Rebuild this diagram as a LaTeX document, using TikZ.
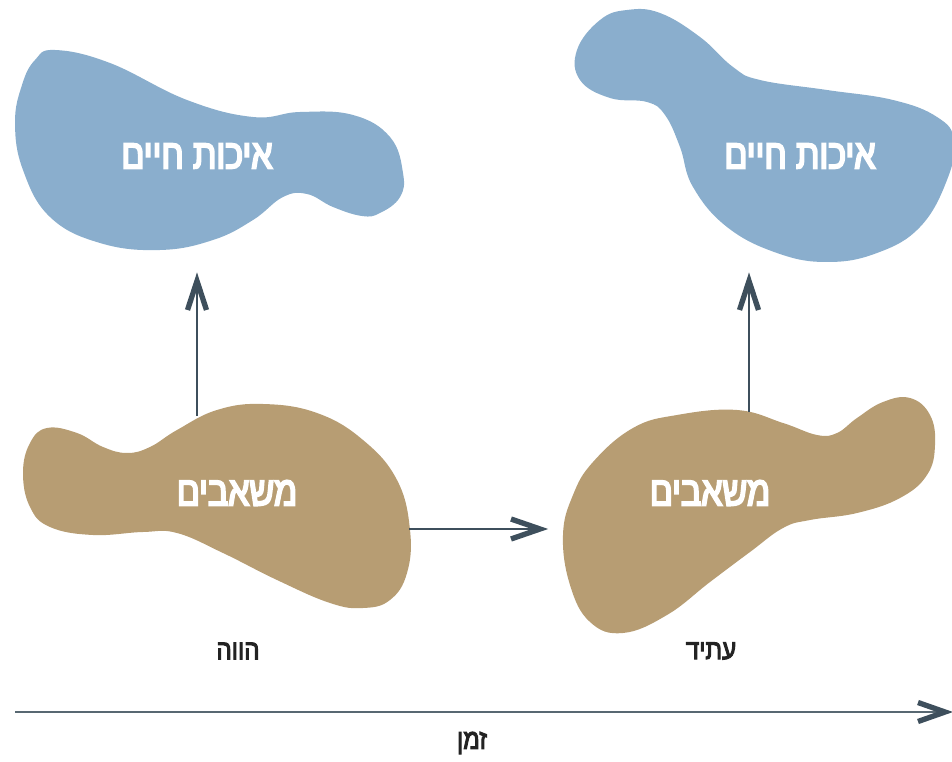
\documentclass[tikz,border=0pt]{standalone}
\usepackage{fontspec}
\newfontfamily\hebb[Script=Hebrew,FakeStretch=0.82,FakeBold=4.5]{Liberation Sans}
\newfontfamily\hebs[Script=Hebrew,FakeStretch=0.86,FakeBold=3.5]{Liberation Sans}
\TeXXeTstate=1
\usetikzlibrary{calc}
\definecolor{blobblue}{RGB}{138,174,205}
\definecolor{blobtan}{RGB}{183,157,115}
\definecolor{arrowdark}{RGB}{62,79,92}
\definecolor{axisgray}{RGB}{88,104,114}
\definecolor{labeldark}{RGB}{35,35,35}
\tikzset{
  bluefill/.style={fill=blobblue, draw=none},
  tanfill/.style={fill=blobtan, draw=none},
  bigtext/.style={text=white, font=\hebb\fontsize{31}{31}\selectfont, inner sep=0pt},
  smalltext/.style={text=labeldark, font=\hebs\fontsize{21}{21}\selectfont, inner sep=0pt},
  conn/.style={draw=arrowdark, line width=1.3pt},
  axisline/.style={draw=axisgray, line width=1.6pt},
  chev/.style={draw=arrowdark, line width=4pt, line join=miter, line cap=butt},
}
\begin{document}
\begin{tikzpicture}[x=0.75pt,y=-0.75pt]
\useasboundingbox (0,0) rectangle (952,762);

% top-left blue blob
\fill[bluefill] plot[smooth cycle, tension=0.7] coordinates {
 (55,50) (110,63) (187,100) (253,117) (300,112) (353,115) (390,137) (403,173)
 (400,197) (380,213) (362,216) (333,207) (307,194) (283,197) (253,220) (213,240)
 (160,250) (100,243) (50,217) (23,170) (15,123) (22,85) (35,60)};
% top-right blue blob
\begin{scope}
\clip (0,0) rectangle (952,762);
\fill[bluefill] plot[smooth cycle, tension=0.7] coordinates {
 (627,10) (660,13) (700,37) (733,67) (760,80) (827,90) (893,100) (937,117)
 (954,140) (947,180) (920,227) (877,253) (827,262) (777,253) (727,227) (693,187)
 (680,147) (665,115) (647,102) (610,98) (580,80) (577,50) (600,20)};
\end{scope}
% bottom-left tan blob
\fill[tanfill] plot[smooth cycle, tension=0.7] coordinates {
 (47,428) (77,433) (103,447) (127,453) (150,447) (177,430) (217,410) (263,404)
 (317,413) (363,440) (397,480) (410,530) (407,573) (390,600) (363,608) (330,603)
 (277,580) (223,553) (177,533) (143,532) (93,535) (50,527) (30,507) (23,473) (30,443)};
% bottom-right tan blob
\fill[tanfill] plot[smooth cycle, tension=0.7] coordinates {
 (633,428) (677,415) (737,410) (783,423) (817,435) (837,433) (857,418) (883,402)
 (910,398) (930,415) (935,445) (927,475) (900,498) (857,513) (810,520) (783,528)
 (750,552) (710,582) (667,615) (623,633) (590,622) (570,585) (563,535) (573,495) (593,462)};

% texts
\node[bigtext] (q1) at (197,156) {\beginR איכות חיים\endR};
\node[bigtext] (q2) at (800,156) {\beginR איכות חיים\endR};
\node[bigtext] (m1) at (237,493) {\beginR משאבים\endR};
\node[bigtext] (m2) at (710,493) {\beginR משאבים\endR};
\node[smalltext] (now) at (238,651) {\beginR הווה\endR};
\node[smalltext] (fut) at (711,651) {\beginR עתיד\endR};
\node[smalltext] (time) at (472,743) {\beginR זמן\endR};

% connector anchors
\coordinate (b1top) at (197,416);
\coordinate (t1) at (197,281);
\coordinate (b2top) at (749,412);
\coordinate (t2) at (749,281);
\coordinate (b1right) at (409,529);
\coordinate (t3) at (540,529);
\coordinate (axstart) at (15,712);
\coordinate (axend) at (945,712);

% connectors
\draw[conn] (b1top) -- (t1);
\draw[conn] (b2top) -- (t2);
\draw[conn] (b1right) -- (t3);
\draw[axisline] (axstart) -- (axend);

% chevron heads
\draw[chev] ($(t1)+(-9.5,29)$) -- (t1) -- ($(t1)+(9.5,29)$);
\draw[chev] ($(t2)+(-9.5,29)$) -- (t2) -- ($(t2)+(9.5,29)$);
\draw[chev] ($(t3)+(-29,-10)$) -- (t3) -- ($(t3)+(-29,10)$);
\draw[chev] ($(axend)+(-27,-9.5)$) -- (axend) -- ($(axend)+(-27,9.5)$);
\end{tikzpicture}
\end{document}
